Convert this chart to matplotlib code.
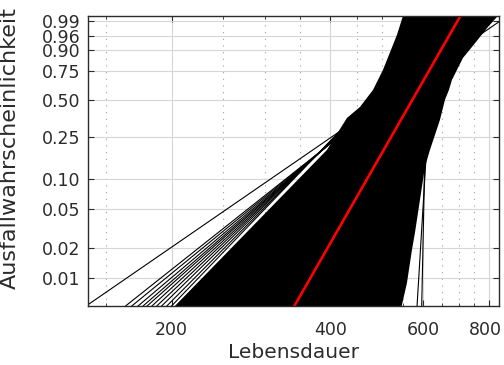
import numpy as np
import matplotlib
matplotlib.use("Agg")
import matplotlib.pyplot as plt
import matplotlib.transforms as mtransforms
from matplotlib.ticker import FixedLocator, NullFormatter

# ---------------- data ----------------
# Weibull probability axis ticks
y_ticks = [0.01, 0.02, 0.05, 0.10, 0.25, 0.50, 0.75, 0.90, 0.96, 0.99]
y_tick_labels = ["0.01", "0.02", "0.05", "0.10", "0.25", "0.50", "0.75", "0.90", "0.96", "0.99"]
x_ticks = [200, 400, 600, 800]
x_tick_labels = ["200", "400", "600", "800"]
x_minor = [150, 250, 300, 350, 450, 500, 550, 650, 700, 750]

# dense band of bootstrap Weibull lines (envelope)
band_x = [194.2, 393.9, 429.9, 455.0, 481.6, 503.0, 520.9, 534.7, 548.9, 567.7,
          900.0, 827.4, 795.5, 768.2, 741.8, 713.3, 694.8, 679.8, 670.9, 659.3,
          645.1, 631.2, 617.6, 604.2, 591.2, 578.4, 570.9, 558.6, 546.5, 540.4]
band_p = [0.004, 0.1903, 0.3641, 0.4449, 0.5863, 0.7587, 0.8987, 0.9622, 0.9942, 0.9999,
          0.9999, 0.99346, 0.98098, 0.95591, 0.91454, 0.8493, 0.7587, 0.6738, 0.5863, 0.5011,
          0.3506, 0.2606, 0.1903, 0.1313, 0.06209, 0.02877, 0.01927, 0.008826, 0.005234, 0.004]

# individual visible bootstrap lines: scale (eta) and shape (beta)
line_eta = [560, 553, 547, 541, 536, 532, 527, 521, 516, 511, 506, 619, 608]
line_beta = [3.76, 4.33, 4.47, 4.62, 4.75, 4.86, 5.00, 5.16, 5.32, 5.50, 5.68, 90.0, 260.0]

# fitted Weibull line (red)
fit_eta = 594.0
fit_beta = 9.54

# ---------------- plotting ----------------
def fwd(p):
    p = np.clip(np.asarray(p, dtype=float), 1e-12, 1 - 1e-12)
    return np.log(-np.log1p(-p))

def inv(y):
    return -np.expm1(-np.exp(np.asarray(y, dtype=float)))

def weib_x(eta, beta, p):
    p = np.asarray(p, dtype=float)
    return eta * (-np.log1p(-p)) ** (1.0 / beta)

plt.rcParams['font.family'] = ['DejaVu Sans']
text_col = '#2b2b2b'

fig = plt.figure(figsize=(5.04, 3.65), dpi=100)
ax = fig.add_axes([0.1752, 0.1616, 0.9907 - 0.1752, 0.9562 - 0.1616])
ax.set_xscale('log')
ax.set_yscale('function', functions=(fwd, inv))

p_ends = np.array([1e-4, 0.99999])

ax.fill(band_x, band_p, color='black', lw=0, zorder=2)
for eta, beta in zip(line_eta, line_beta):
    ax.plot(weib_x(eta, beta, p_ends), p_ends, color='black', lw=0.8, zorder=3)
ax.plot(weib_x(fit_eta, fit_beta, p_ends), p_ends, color='#ff0000', lw=1.9, zorder=4)

ax.set_xlim(139, 836)
ax.set_ylim(0.0051, 0.9942)

ax.xaxis.set_major_locator(FixedLocator(x_ticks))
ax.set_xticklabels(x_tick_labels)
ax.xaxis.set_minor_locator(FixedLocator(x_minor))
ax.xaxis.set_minor_formatter(NullFormatter())
ax.yaxis.set_major_locator(FixedLocator(y_ticks))
ax.set_yticklabels(y_tick_labels)
ax.yaxis.set_minor_locator(FixedLocator([]))

ax.set_axisbelow(True)
ax.grid(True, which='major', color='#d6d6d6', lw=0.8, ls='-')
ax.grid(True, which='minor', axis='x', color='#a0a0a0', lw=0.8, ls=(0, (1, 5)))

ax.tick_params(which='both', direction='in', top=True, right=True,
               colors=text_col, labelsize=12.5)
ax.tick_params(axis='y', pad=5.5)
ax.tick_params(axis='x', pad=11)
ax.tick_params(which='major', length=4, width=0.8)
ax.tick_params(which='minor', length=2, width=0.6)
for s in ax.spines.values():
    s.set_color(text_col)
    s.set_linewidth(1.0)
    s.set_zorder(5)

# keep the last x tick label inside the figure like the reference
last = ax.get_xticklabels()[-1]
last.set_transform(last.get_transform() +
                   mtransforms.ScaledTranslation(-4 / 100, 0, fig.dpi_scale_trans))

ax.set_xlabel('Lebensdauer', fontsize=14.5, color=text_col, labelpad=3)
ax.set_ylabel('Ausfallwahrscheinlichkeit', fontsize=16, color=text_col)
ax.yaxis.set_label_coords(-0.166, 0.545)

fig.savefig('out.png', dpi=100)
